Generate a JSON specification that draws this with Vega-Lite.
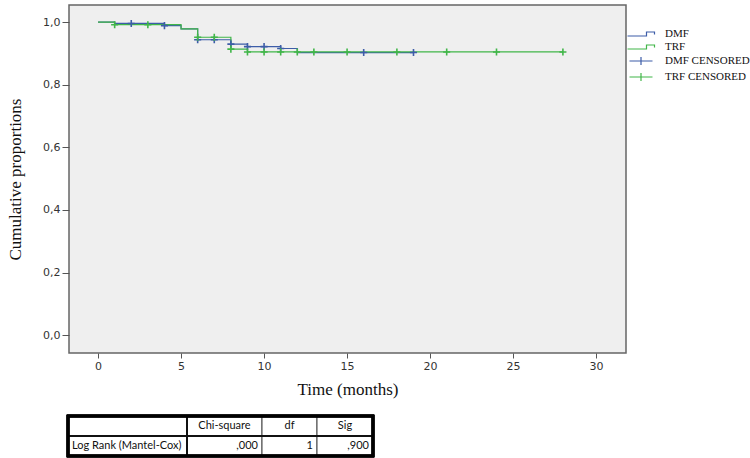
{
  "$schema": "https://vega.github.io/schema/vega-lite/v6.json",
  "padding": {"left": 5, "top": 4, "right": 0, "bottom": 0},
  "background": "white",
  "spacing": 16,
  "config": {"font": "DejaVu Sans"},
  "datasets": {
    "survival": [
      {"group": "DMF", "time": 0, "proportion": 1.0},
      {"group": "DMF", "time": 1, "proportion": 0.996},
      {"group": "DMF", "time": 4, "proportion": 0.989},
      {"group": "DMF", "time": 5, "proportion": 0.979},
      {"group": "DMF", "time": 6, "proportion": 0.944},
      {"group": "DMF", "time": 8, "proportion": 0.930},
      {"group": "DMF", "time": 9, "proportion": 0.922},
      {"group": "DMF", "time": 11, "proportion": 0.916},
      {"group": "DMF", "time": 12, "proportion": 0.903},
      {"group": "DMF", "time": 19, "proportion": 0.903},
      {"group": "TRF", "time": 0, "proportion": 1.0},
      {"group": "TRF", "time": 1, "proportion": 0.992},
      {"group": "TRF", "time": 5, "proportion": 0.979},
      {"group": "TRF", "time": 6, "proportion": 0.952},
      {"group": "TRF", "time": 8, "proportion": 0.914},
      {"group": "TRF", "time": 9, "proportion": 0.905},
      {"group": "TRF", "time": 28, "proportion": 0.905}
    ],
    "censored": [
      {"group": "DMF CENSORED", "time": 2, "proportion": 0.996},
      {"group": "DMF CENSORED", "time": 4, "proportion": 0.989},
      {"group": "DMF CENSORED", "time": 6, "proportion": 0.944},
      {"group": "DMF CENSORED", "time": 7, "proportion": 0.944},
      {"group": "DMF CENSORED", "time": 8, "proportion": 0.930},
      {"group": "DMF CENSORED", "time": 9, "proportion": 0.922},
      {"group": "DMF CENSORED", "time": 10, "proportion": 0.922},
      {"group": "DMF CENSORED", "time": 11, "proportion": 0.916},
      {"group": "DMF CENSORED", "time": 16, "proportion": 0.903},
      {"group": "DMF CENSORED", "time": 19, "proportion": 0.903},
      {"group": "TRF CENSORED", "time": 1, "proportion": 0.992},
      {"group": "TRF CENSORED", "time": 3, "proportion": 0.992},
      {"group": "TRF CENSORED", "time": 6, "proportion": 0.952},
      {"group": "TRF CENSORED", "time": 7, "proportion": 0.952},
      {"group": "TRF CENSORED", "time": 8, "proportion": 0.914},
      {"group": "TRF CENSORED", "time": 9, "proportion": 0.905},
      {"group": "TRF CENSORED", "time": 10, "proportion": 0.905},
      {"group": "TRF CENSORED", "time": 11, "proportion": 0.905},
      {"group": "TRF CENSORED", "time": 12, "proportion": 0.905},
      {"group": "TRF CENSORED", "time": 13, "proportion": 0.905},
      {"group": "TRF CENSORED", "time": 15, "proportion": 0.905},
      {"group": "TRF CENSORED", "time": 18, "proportion": 0.905},
      {"group": "TRF CENSORED", "time": 21, "proportion": 0.905},
      {"group": "TRF CENSORED", "time": 24, "proportion": 0.905},
      {"group": "TRF CENSORED", "time": 28, "proportion": 0.905}
    ],
    "table": [
      {"row": 0, "rowEnd": 1, "col": 0, "colEnd": 1, "text": ""},
      {"row": 0, "rowEnd": 1, "col": 1, "colEnd": 2, "text": "Chi-square"},
      {"row": 0, "rowEnd": 1, "col": 2, "colEnd": 3, "text": "df"},
      {"row": 0, "rowEnd": 1, "col": 3, "colEnd": 4, "text": "Sig"},
      {"row": 1, "rowEnd": 2, "col": 0, "colEnd": 1, "text": "Log Rank (Mantel-Cox)"},
      {"row": 1, "rowEnd": 2, "col": 1, "colEnd": 2, "text": ",000"},
      {"row": 1, "rowEnd": 2, "col": 2, "colEnd": 3, "text": "1"},
      {"row": 1, "rowEnd": 2, "col": 3, "colEnd": 4, "text": ",900"}
    ]
  },
  "vconcat": [
    {
      "width": 557,
      "height": 348,
      "view": {"fill": "#efefef", "stroke": "#666666", "strokeWidth": 1.5},
      "encoding": {
        "x": {
          "field": "time", "type": "quantitative",
          "scale": {"domain": [-1.75, 31.8], "nice": false, "zero": false},
          "axis": {
            "title": "Time (months)", "values": [0, 5, 10, 15, 20, 25, 30],
            "grid": false, "domain": false,
            "tickSize": 5, "tickColor": "#555555", "labelPadding": 2,
            "labelFont": "DejaVu Sans", "labelFontSize": 11, "labelColor": "#333333",
            "titleFont": "Liberation Serif", "titleFontSize": 17, "titleFontWeight": "normal",
            "titleColor": "#111111", "titlePadding": 10
          }
        },
        "y": {
          "field": "proportion", "type": "quantitative",
          "scale": {"domain": [-0.057, 1.055], "nice": false, "zero": false},
          "axis": {
            "title": "Cumulative proportions", "values": [0, 0.2, 0.4, 0.6, 0.8, 1],
            "labelExpr": "replace(format(datum.value, '.1f'), '.', ',')",
            "grid": false, "domain": false,
            "tickSize": 7, "tickColor": "#555555", "labelPadding": 2,
            "labelFont": "DejaVu Sans", "labelFontSize": 11, "labelColor": "#333333",
            "titleFont": "Liberation Serif", "titleFontSize": 17, "titleFontWeight": "normal",
            "titleColor": "#111111", "titlePadding": 18
          }
        },
        "color": {
          "field": "group", "type": "nominal",
          "scale": {
            "domain": ["DMF", "TRF", "DMF CENSORED", "TRF CENSORED"],
            "range": ["#3d5da8", "#41b649", "#3d5da8", "#41b649"]
          },
          "legend": {
            "title": null, "orient": "none", "legendX": 566, "legendY": 23,
            "padding": 0, "rowPadding": 2, "symbolSize": 100, "labelOffset": 18,
            "labelFont": "Liberation Serif", "labelFontSize": 11, "labelColor": "#111111",
            "symbolStrokeWidth": 1.2,
            "encode": {
              "symbols": {
                "update": {
                  "shape": {"signal": "indexof(datum.value, 'CENSORED') >= 0 ? 'M-2.3,0L2.3,0M0,-0.8L0,0.8' : 'M-2.7,0.4L1.1,0.4L1.1,-0.4L2.7,-0.4L2.7,0.1'"},
                  "fill": {"value": "transparent"},
                  "strokeWidth": {"value": 1.2}
                }
              }
            }
          }
        }
      },
      "layer": [
        {
          "data": {"name": "survival"},
          "mark": {"type": "line", "interpolate": "step-after", "strokeWidth": 1.2}
        },
        {
          "data": {"name": "censored"},
          "mark": {"type": "point", "shape": "M-1,0L1,0M0,-1L0,1", "filled": false, "size": 50, "strokeWidth": 1.6, "opacity": 1}
        }
      ]
    },
    {
      "width": 305,
      "height": 40,
      "view": {"stroke": null},
      "data": {"name": "table"},
      "resolve": {"scale": {"x": "independent"}},
      "layer": [
        {
          "mark": {"type": "rect", "fill": "white", "stroke": "#444444", "strokeWidth": 1},
          "encoding": {
            "x": {"field": "col", "type": "quantitative", "axis": null,
                  "scale": {"domain": [0, 1, 2, 3, 4], "range": [-1, 118, 193, 248, 304], "zero": false, "nice": false}},
            "x2": {"field": "colEnd"},
            "y": {"field": "row", "type": "quantitative", "axis": null,
                  "scale": {"domain": [0, 2], "range": [0, 40], "zero": false, "nice": false}},
            "y2": {"field": "rowEnd"}
          }
        },
        {
          "mark": {"type": "rule", "stroke": "#111111", "strokeWidth": 2},
          "encoding": {
            "x": {"datum": 1, "type": "quantitative", "axis": null,
                  "scale": {"domain": [0, 1, 2, 3, 4], "range": [-1, 118, 193, 248, 304], "zero": false, "nice": false}},
            "y": {"datum": 0, "type": "quantitative", "axis": null,
                  "scale": {"domain": [0, 2], "range": [0, 40], "zero": false, "nice": false}},
            "y2": {"datum": 2}
          }
        },
        {
          "mark": {"type": "rule", "stroke": "#111111", "strokeWidth": 1.8},
          "encoding": {
            "x": {"datum": 0, "type": "quantitative", "axis": null,
                  "scale": {"domain": [0, 1, 2, 3, 4], "range": [-1, 118, 193, 248, 304], "zero": false, "nice": false}},
            "x2": {"datum": 4},
            "y": {"datum": 1, "type": "quantitative", "axis": null,
                  "scale": {"domain": [0, 2], "range": [0, 40], "zero": false, "nice": false}}
          }
        },
        {
          "mark": {"type": "rect", "fill": null, "fillOpacity": 0, "stroke": "#000000", "strokeWidth": 2.5},
          "encoding": {
            "x": {"datum": 0, "type": "quantitative", "axis": null,
                  "scale": {"domain": [0, 1, 2, 3, 4], "range": [-1, 118, 193, 248, 304], "zero": false, "nice": false}},
            "x2": {"datum": 4},
            "y": {"datum": 0, "type": "quantitative", "axis": null,
                  "scale": {"domain": [0, 2], "range": [0, 40], "zero": false, "nice": false}},
            "y2": {"datum": 2}
          }
        },
        {
          "transform": [{"filter": "datum.row == 0 && datum.col > 0"}],
          "mark": {"type": "text", "align": "center", "baseline": "middle", "dy": 10, "font": "Lato", "fontSize": 11, "color": "#111111"},
          "encoding": {
            "x": {"field": "col", "type": "quantitative", "axis": null,
                  "scale": {"domain": [0, 1, 2, 3], "range": [58.5, 155.5, 220.5, 276], "zero": false, "nice": false}},
            "y": {"field": "row", "type": "quantitative", "axis": null,
                  "scale": {"domain": [0, 2], "range": [0, 40], "zero": false, "nice": false}},
            "text": {"field": "text"}
          }
        },
        {
          "transform": [{"filter": "datum.row == 1 && datum.col == 0"}],
          "mark": {"type": "text", "align": "left", "baseline": "middle", "dx": 4, "dy": 10, "font": "Lato", "fontSize": 11, "color": "#111111"},
          "encoding": {
            "x": {"field": "col", "type": "quantitative", "axis": null,
                  "scale": {"domain": [0, 1, 2, 3, 4], "range": [-1, 118, 193, 248, 304], "zero": false, "nice": false}},
            "y": {"field": "row", "type": "quantitative", "axis": null,
                  "scale": {"domain": [0, 2], "range": [0, 40], "zero": false, "nice": false}},
            "text": {"field": "text"}
          }
        },
        {
          "transform": [{"filter": "datum.row == 1 && datum.col > 0"}],
          "mark": {"type": "text", "align": "right", "baseline": "middle", "dx": -4, "dy": 10, "font": "Lato", "fontSize": 11, "color": "#111111"},
          "encoding": {
            "x": {"field": "colEnd", "type": "quantitative", "axis": null,
                  "scale": {"domain": [0, 1, 2, 3, 4], "range": [-1, 118, 193, 248, 304], "zero": false, "nice": false}},
            "y": {"field": "row", "type": "quantitative", "axis": null,
                  "scale": {"domain": [0, 2], "range": [0, 40], "zero": false, "nice": false}},
            "text": {"field": "text"}
          }
        }
      ]
    }
  ]
}
